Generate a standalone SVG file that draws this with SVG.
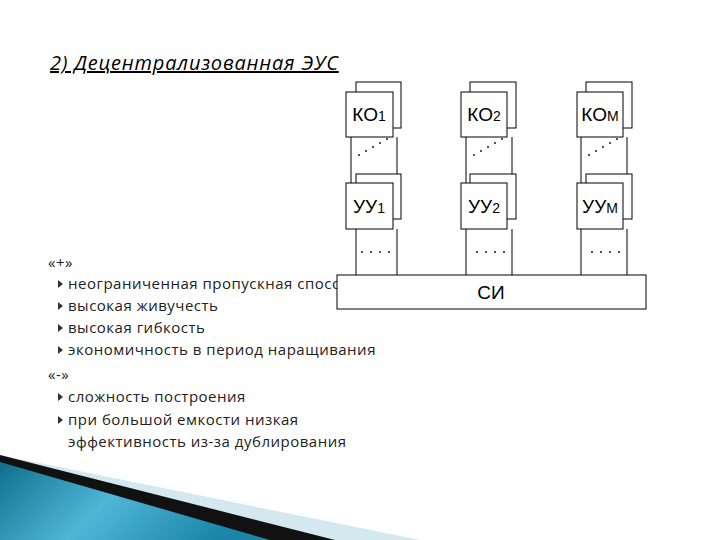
<svg xmlns="http://www.w3.org/2000/svg" width="720" height="540" viewBox="0 0 720 540">
<defs>
<style>
.t{font-family:"Open Sans","DejaVu Sans",sans-serif;font-size:15px;letter-spacing:0.5px;fill:#222}
.b{fill:#fff;stroke:#000;stroke-width:1}
.l{stroke:#000;stroke-width:1;fill:none}
.n{font-family:"Liberation Sans",Arial,sans-serif;font-size:19px;fill:#000;text-anchor:middle}
</style>
<linearGradient id="g" x1="0" y1="0" x2="1" y2="0.3"><stop offset="0" stop-color="#0e6f8c"/><stop offset="0.5" stop-color="#4fb6d8"/><stop offset="1" stop-color="#1b86a8"/></linearGradient>
<path id="bul" d="M0,-4 L5,0 L0,4 Z" fill="#333"/>
</defs>
<rect width="720" height="540" fill="#fff"/>
<polygon points="0,455 420,540 0,540" fill="#d4e8f0"/>
<polygon points="0,455 335,540 0,540" fill="#111"/>
<polygon points="0,462 270,540 0,540" fill="url(#g)"/>
<text x="50" y="70" font-family="'Open Sans','DejaVu Sans',sans-serif" font-size="20" letter-spacing="0.8" font-style="italic" text-decoration="underline" fill="#000">2) Децентрализованная ЭУС</text>
<g id="list">
<text class="t" x="48" y="268">«+»</text>
<use href="#bul" x="58" y="284"/><text class="t" x="68" y="289">неограниченная пропускная способность</text>
<use href="#bul" x="58" y="306"/><text class="t" x="68" y="311">высокая живучесть</text>
<use href="#bul" x="58" y="328"/><text class="t" x="68" y="333">высокая гибкость</text>
<use href="#bul" x="58" y="350"/><text class="t" x="68" y="355">экономичность в период наращивания</text>
<text class="t" x="48" y="380">«-»</text>
<use href="#bul" x="58" y="397"/><text class="t" x="68" y="402">сложность построения</text>
<use href="#bul" x="58" y="420"/><text class="t" x="68" y="425">при большой емкости низкая</text>
<text class="t" x="68" y="447">эффективность из-за дублирования</text>
</g>
<g id="connectors">
<path class="l" d="M351,137V183M397,137V183M356,229V275M397,229V275"/>
<path class="l" d="M466,137V183M512,137V183M466,229V275M512,229V275"/>
<path class="l" d="M581,137V183M627,137V183M581,229V275M627,229V275"/>
</g>
<g id="dots" fill="#000">
<g id="dc1">
<circle cx="359" cy="155" r="0.9"/><circle cx="366" cy="151" r="0.9"/><circle cx="373" cy="147" r="0.9"/><circle cx="380" cy="143" r="0.9"/><circle cx="387" cy="139" r="0.9"/>
<circle cx="362" cy="252" r="0.9"/><circle cx="371" cy="252" r="0.9"/><circle cx="380" cy="252" r="0.9"/><circle cx="389" cy="252" r="0.9"/>
<circle cx="372" cy="85" r="0.9"/><circle cx="382" cy="84" r="0.9"/><circle cx="372" cy="177" r="0.9"/><circle cx="382" cy="176" r="0.9"/>
</g>
<use href="#dc1" x="115"/><use href="#dc1" x="230"/>
</g>
<g id="ko1"><rect class="b" x="356" y="82" width="45" height="46"/><rect class="b" x="346" y="92" width="47" height="45"/><text class="n" x="369" y="121">КО<tspan font-size="14">1</tspan></text></g>
<g id="ko2"><rect class="b" x="470" y="82" width="46" height="46"/><rect class="b" x="461" y="92" width="46" height="45"/><text class="n" x="484" y="121">КО<tspan font-size="14">2</tspan></text></g>
<g id="kom"><rect class="b" x="586" y="82" width="46" height="46"/><rect class="b" x="577" y="92" width="46" height="45"/><text class="n" x="600" y="121">КО<tspan font-size="14">М</tspan></text></g>
<g id="uu1"><rect class="b" x="356" y="174" width="45" height="45"/><rect class="b" x="346" y="183" width="47" height="46"/><text class="n" x="369" y="213">УУ<tspan font-size="14">1</tspan></text></g>
<g id="uu2"><rect class="b" x="470" y="174" width="46" height="45"/><rect class="b" x="461" y="183" width="46" height="46"/><text class="n" x="484" y="213">УУ<tspan font-size="14">2</tspan></text></g>
<g id="uum"><rect class="b" x="586" y="174" width="46" height="45"/><rect class="b" x="577" y="183" width="46" height="46"/><text class="n" x="600" y="213">УУ<tspan font-size="14">М</tspan></text></g>
<g id="si"><rect class="b" x="337" y="275" width="309" height="34"/><text class="n" x="491" y="299">СИ</text></g>
</svg>
